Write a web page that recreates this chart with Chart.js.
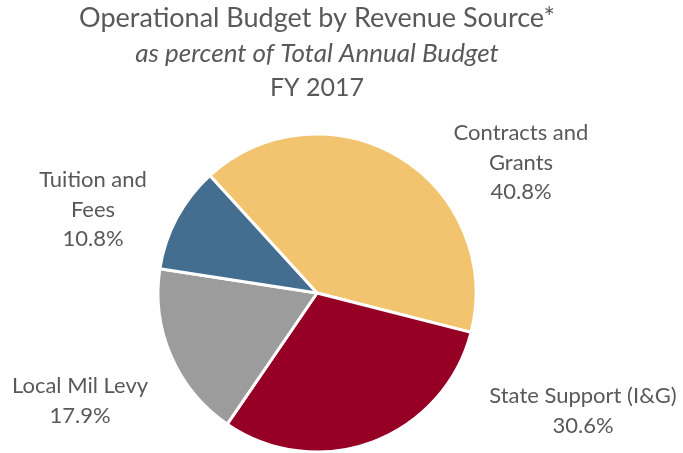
<!DOCTYPE html>
<html>
<head>
<meta charset="utf-8">
<title>Operational Budget by Revenue Source</title>
<script src="https://cdn.jsdelivr.net/npm/chart.js@4.4.0/dist/chart.umd.min.js"></script>
<style>
  html, body { margin: 0; padding: 0; background: #fff; }
  canvas { display: block; }
</style>
</head>
<body>
<canvas id="budget-chart" width="683" height="453"></canvas>
<script>
const categories = [["Contracts and", "Grants"], ["State Support (I&G)"], ["Local Mil Levy"], ["Tuition and", "Fees"]];
const percents = [40.8, 30.6, 17.9, 10.8];
const sliceColors = ["#F3C46F", "#960024", "#9C9C9C", "#446E8F"];
const titleLines = ["Operational Budget by Revenue Source*", "as percent of Total Annual Budget", "FY 2017"];

const textColor = "#595959";
const fontFamily = "Lato, 'Open Sans', sans-serif";

// where each label block sits relative to the pie centre (first baseline, centred)
const labelOffsets = [[204, -153], [266, 110], [-237, 100], [-224, -106]];
const labelLineHeight = 29.5;

const headings = {
  id: "headings",
  afterDraw(chart) {
    const ctx = chart.ctx;
    const cx = chart.getDatasetMeta(0).data[0].x;
    ctx.save();
    ctx.fillStyle = textColor;
    ctx.textAlign = "center";
    ctx.textBaseline = "alphabetic";
    ctx.font = "27px " + fontFamily;
    ctx.fillText(titleLines[0], cx, 27);
    ctx.font = "italic 26px " + fontFamily;
    ctx.fillText(titleLines[1], cx, 62);
    ctx.font = "25px " + fontFamily;
    ctx.fillText(titleLines[2], cx, 96);
    ctx.restore();
  }
};

const sliceLabels = {
  id: "sliceLabels",
  afterDatasetsDraw(chart) {
    const ctx = chart.ctx;
    const arcs = chart.getDatasetMeta(0).data;
    ctx.save();
    ctx.fillStyle = textColor;
    ctx.textAlign = "center";
    ctx.textBaseline = "alphabetic";
    ctx.font = "22px " + fontFamily;
    arcs.forEach((arc, i) => {
      const lines = categories[i].concat([percents[i].toFixed(1) + "%"]);
      const x = arc.x + labelOffsets[i][0];
      const y = arc.y + labelOffsets[i][1];
      lines.forEach((line, j) => {
        ctx.fillText(line, x, y + j * labelLineHeight);
      });
    });
    ctx.restore();
  }
};

const ctx = document.getElementById("budget-chart").getContext("2d");
const budgetChart = new Chart(ctx, {
  type: "pie",
  data: {
    labels: categories.map(c => c.join(" ")),
    datasets: [{
      data: percents,
      backgroundColor: sliceColors,
      borderColor: "#ffffff",
      borderWidth: 3
    }]
  },
  options: {
    responsive: false,
    devicePixelRatio: 1,
    animation: false,
    rotation: -42.4,
    radius: 159,
    layout: { padding: { left: 0, right: 49, top: 133, bottom: 0 } },
    plugins: {
      legend: { display: false },
      tooltip: { enabled: false }
    }
  },
  plugins: [headings, sliceLabels]
});
</script>
</body>
</html>
